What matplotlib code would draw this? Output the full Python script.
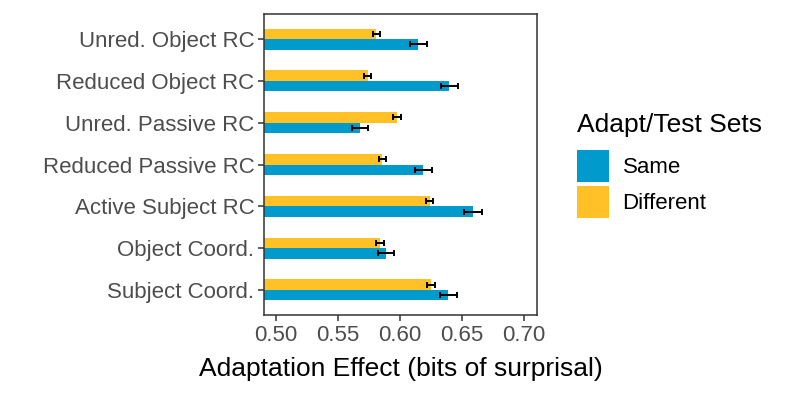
import matplotlib

matplotlib.use("Agg")
import matplotlib.pyplot as plt
import numpy as np
from matplotlib.patches import Patch

plt.rcParams["font.family"] = ["Liberation Sans", "DejaVu Sans"]

# categories, bottom to top
categories = ["Subject Coord.", "Object Coord.", "Active Subject RC",
              "Reduced Passive RC", "Unred. Passive RC", "Reduced Object RC",
              "Unred. Object RC"]
same_vals = [0.639, 0.589, 0.659, 0.619, 0.568, 0.640, 0.615]
same_err = [0.0068, 0.0066, 0.0071, 0.0068, 0.0066, 0.0070, 0.0070]
diff_vals = [0.625, 0.584, 0.624, 0.586, 0.598, 0.574, 0.581]
diff_err = [0.0030, 0.0030, 0.0028, 0.0030, 0.0032, 0.0030, 0.0030]
xticks = [0.50, 0.55, 0.60, 0.65, 0.70]

BLUE = "#009ACD"
GOLD = "#FFC125"
DARK = "#333333"

fig = plt.figure(figsize=(7.89, 3.95), dpi=100)
ax = fig.add_axes([264 / 789, 80 / 395, 273 / 789, 301 / 395])

y = np.arange(1, len(categories) + 1)
h = 0.25
base = 0.4
ax.barh(y - h / 2, np.array(same_vals) - base, left=base, height=h, color=BLUE)
ax.barh(y + h / 2, np.array(diff_vals) - base, left=base, height=h, color=GOLD)
ax.errorbar(same_vals, y - h / 2, xerr=same_err, fmt="none", ecolor="black",
            elinewidth=1.4, capsize=2.2, capthick=1.4)
ax.errorbar(diff_vals, y + h / 2, xerr=diff_err, fmt="none", ecolor="black",
            elinewidth=1.4, capsize=2.2, capthick=1.4)

ax.set_xlim(0.4906, 0.7105)
ax.set_ylim(0.4, 7.6)
ax.set_xticks(xticks)
ax.set_xticklabels([f"{t:.2f}" for t in xticks])
ax.set_yticks(y)
ax.set_yticklabels(categories)
ax.tick_params(axis="both", colors=DARK, labelcolor="#4D4D4D", labelsize=16,
               length=4, width=1.1, pad=3)
for spine in ax.spines.values():
    spine.set_color(DARK)
    spine.set_linewidth(1.1)
ax.set_xlabel("Adaptation Effect (bits of surprisal)", fontsize=19, labelpad=8)

# legend: title as separate text, keys below
fig.text(577 / 789, 1 - 125 / 395, "Adapt/Test Sets", fontsize=19,
         ha="left", va="center")
handles = [Patch(facecolor=BLUE, edgecolor="none", label="Same"),
           Patch(facecolor=GOLD, edgecolor="none", label="Different")]
fig.legend(handles=handles, loc="upper left",
           bbox_to_anchor=(577 / 789, 1 - 150 / 395), frameon=False,
           fontsize=16, handlelength=1.45, handleheight=1.85,
           handletextpad=0.6, labelspacing=0.15,
           borderaxespad=0, borderpad=0)

fig.savefig("out.png")
